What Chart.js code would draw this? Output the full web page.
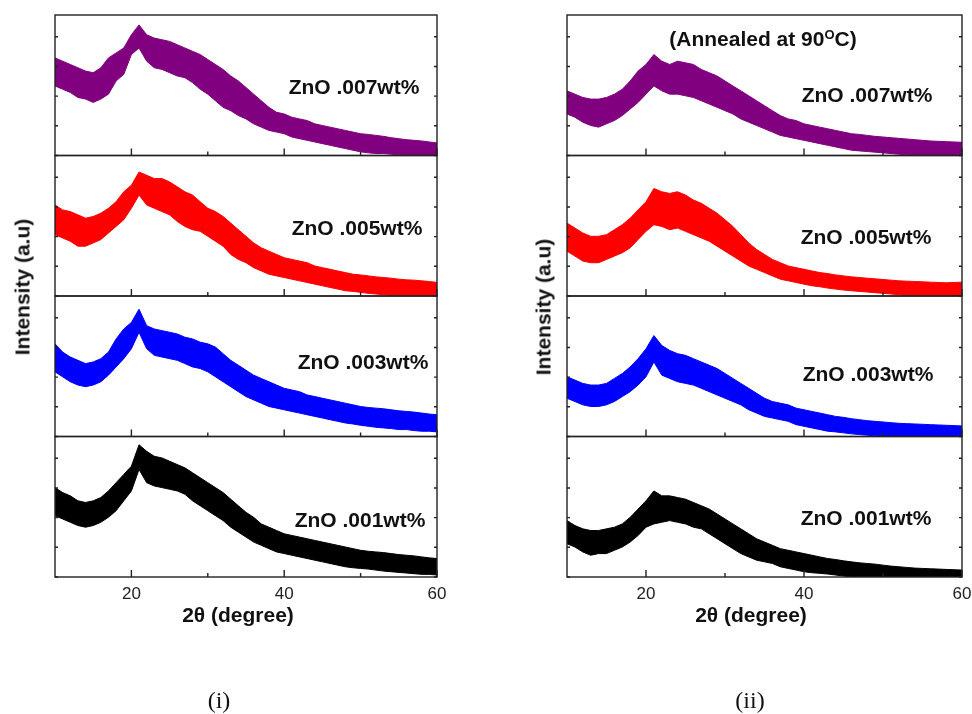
<!DOCTYPE html>
<html>
<head>
<meta charset="utf-8">
<script src="https://cdn.jsdelivr.net/npm/chart.js@4.4.1/dist/chart.umd.min.js"></script>
<style>
    body {
        margin: 0;
        background: #fff;
        width: 972px;
        height: 714px;
        position: relative;
        overflow: hidden;
        font-family: "Liberation Sans", Arial, sans-serif;
        color: #111;
    }
    .panel { position: absolute; top: 0; height: 714px; }
    .lbl {
        position: absolute;
        transform: translate(-50%, -50%);
        font-weight: bold;
        font-size: 21px;
        line-height: 1;
        white-space: nowrap;
    }
    .ytitle { transform: translate(-50%, -50%) rotate(-90deg); }
    .cap {
        font-family: "Liberation Serif", "Times New Roman", serif;
        font-weight: normal;
        font-size: 24px;
    }
    sup.deg { font-size: 13px; vertical-align: 7px; line-height: 0; }
</style>
</head>
<body>

<div class="panel" style="left:0; width:486px"><canvas id="chartDep" width="486" height="714"></canvas></div>
<div class="panel" style="left:486px; width:506px"><canvas id="chartAnn" width="506" height="714"></canvas></div>

<div class="lbl ytitle" style="left:22px; top:287px">Intensity (a.u)</div>
<div class="lbl ytitle" style="left:543px; top:307px">Intensity (a.u)</div>
<div class="lbl" style="left:238px; top:614px">2θ (degree)</div>
<div class="lbl" style="left:751px; top:614px">2θ (degree)</div>
<div class="lbl" style="left:763px; top:38px">(Annealed at 90<sup class="deg">O</sup>C)</div>
<div class="lbl cap" style="left:219px; top:700px">(i)</div>
<div class="lbl cap" style="left:750px; top:700px">(ii)</div>
<div id="labels"></div>

<script>
// 2theta positions, one per degree
const twoTheta = [
    10, 11, 12, 13, 14, 15, 16, 17, 18, 19,
    20, 21, 22, 23, 24, 25, 26, 27, 28, 29,
    30, 31, 32, 33, 34, 35, 36, 37, 38, 39,
    40, 41, 42, 43, 44, 45, 46, 47, 48, 49,
    50, 51, 52, 53, 54, 55, 56, 57, 58, 59, 60
];
const xTicks = [20, 40, 60];
const xMinorTicks = [30, 50];

const sampleNames = ["ZnO .007wt%", "ZnO .005wt%", "ZnO .003wt%", "ZnO .001wt%"];
const sampleColors = ["#800080", "#ff0000", "#0000ff", "#000000"];

// (i) as deposited - top and bottom edge of each noisy trace (a.u.)
const hi007 = [296, 286, 276, 266, 256, 251, 266, 296, 311, 326,
    366, 396, 366, 356, 351, 346, 336, 326, 316, 306,
    291, 276, 261, 241, 226, 206, 186, 166, 146, 131,
    126, 116, 111, 106, 96, 91, 86, 81, 76, 71,
    66, 64, 61, 58, 54, 51, 48, 46, 44, 41, 38];
const lo007 = [211, 201, 191, 176, 171, 161, 171, 186, 226, 246,
    306, 326, 286, 266, 261, 251, 241, 236, 221, 201,
    186, 166, 146, 136, 121, 111, 96, 86, 76, 71,
    66, 56, 51, 46, 41, 36, 31, 26, 21, 16,
    11, 8, 6, 6, 4, 2, 0, 0, 0, 0, 0];
const hi005 = [276, 261, 256, 246, 236, 241, 251, 266, 286, 316,
    336, 376, 366, 356, 356, 346, 331, 316, 306, 286,
    266, 256, 241, 221, 201, 181, 161, 146, 136, 126,
    116, 111, 106, 101, 91, 86, 81, 76, 71, 66,
    64, 61, 58, 56, 54, 51, 49, 48, 46, 44, 41];
const lo005 = [186, 176, 166, 151, 151, 161, 171, 191, 211, 231,
    266, 306, 276, 266, 256, 246, 226, 211, 201, 196,
    181, 166, 151, 126, 111, 101, 86, 76, 66, 61,
    56, 51, 46, 41, 36, 31, 26, 21, 16, 14,
    11, 8, 6, 4, 2, 0, 0, 0, 0, 0, 0];
const hi003 = [281, 256, 241, 231, 221, 226, 236, 256, 296, 326,
    346, 386, 336, 326, 321, 316, 311, 301, 296, 286,
    281, 271, 251, 231, 216, 201, 186, 176, 166, 156,
    146, 141, 136, 126, 121, 116, 111, 106, 101, 96,
    91, 88, 86, 84, 81, 78, 76, 74, 71, 68, 66];
const lo003 = [196, 181, 166, 156, 151, 156, 166, 186, 211, 236,
    266, 316, 266, 246, 241, 236, 231, 221, 211, 206,
    196, 181, 166, 151, 136, 121, 111, 101, 91, 86,
    81, 76, 71, 66, 61, 56, 51, 46, 41, 38,
    34, 31, 28, 26, 24, 21, 21, 18, 16, 16, 14];
const hi001 = [271, 256, 246, 231, 226, 231, 241, 261, 286, 311,
    336, 401, 381, 366, 361, 351, 341, 331, 316, 301,
    286, 271, 256, 236, 216, 196, 181, 161, 151, 141,
    131, 126, 121, 116, 111, 106, 101, 96, 91, 86,
    81, 78, 76, 74, 71, 68, 66, 64, 61, 58, 56];
const lo001 = [186, 176, 166, 156, 151, 156, 166, 181, 201, 231,
    261, 326, 286, 276, 271, 266, 261, 251, 231, 216,
    201, 186, 171, 151, 136, 121, 106, 96, 86, 76,
    71, 66, 61, 56, 51, 46, 41, 36, 31, 28,
    26, 24, 21, 18, 16, 14, 12, 10, 8, 8, 6];

// (ii) annealed at 90 C
const annHi007 = [196, 186, 176, 171, 171, 176, 186, 201, 226, 256,
    276, 306, 286, 276, 286, 281, 276, 261, 251, 241,
    226, 211, 196, 181, 166, 151, 136, 121, 111, 106,
    96, 91, 86, 81, 76, 71, 66, 64, 61, 58,
    56, 54, 52, 50, 48, 46, 44, 43, 42, 41, 40];
const annLo007 = [126, 116, 101, 91, 86, 96, 106, 121, 141, 161,
    186, 211, 196, 186, 186, 181, 176, 166, 156, 146,
    136, 126, 111, 101, 91, 81, 71, 61, 56, 51,
    46, 41, 36, 31, 26, 21, 16, 14, 12, 10,
    8, 6, 4, 2, 0, 0, 0, 0, 0, 0, 0];
const annHi005 = [221, 206, 191, 181, 181, 186, 201, 216, 236, 261,
    286, 326, 316, 311, 316, 306, 291, 281, 266, 251,
    231, 211, 186, 161, 141, 126, 111, 101, 91, 86,
    81, 76, 71, 68, 64, 61, 58, 56, 54, 52,
    50, 48, 46, 45, 44, 43, 42, 41, 40, 41, 42];
const annLo005 = [136, 121, 106, 101, 101, 111, 121, 131, 146, 171,
    196, 216, 211, 201, 206, 196, 186, 176, 166, 151,
    136, 121, 106, 91, 81, 71, 61, 51, 46, 41,
    36, 31, 28, 24, 21, 18, 16, 14, 12, 10,
    8, 6, 4, 2, 0, 0, 0, 0, 0, 0, 0];
const annHi003 = [181, 171, 161, 156, 156, 161, 176, 191, 211, 236,
    266, 306, 276, 261, 251, 246, 236, 226, 216, 206,
    191, 176, 161, 146, 131, 116, 106, 101, 96, 86,
    81, 76, 71, 66, 61, 58, 54, 51, 48, 46,
    44, 42, 40, 39, 38, 37, 36, 35, 34, 33, 32];
const annLo003 = [116, 106, 96, 91, 91, 96, 106, 121, 136, 156,
    181, 226, 186, 176, 166, 161, 156, 146, 136, 126,
    116, 106, 96, 81, 71, 61, 56, 51, 46, 36,
    31, 26, 21, 16, 14, 11, 8, 6, 4, 2,
    0, 0, 0, 0, 0, 0, 0, 0, 0, 0, 0];
const annHi001 = [171, 156, 146, 141, 141, 146, 151, 161, 181, 206,
    231, 261, 246, 246, 241, 236, 226, 216, 206, 191,
    176, 161, 146, 131, 116, 106, 96, 86, 81, 76,
    71, 66, 61, 56, 53, 49, 46, 43, 41, 39,
    36, 33, 31, 29, 27, 26, 25, 24, 23, 22, 21];
const annLo001 = [101, 91, 76, 66, 71, 71, 81, 91, 106, 126,
    151, 161, 166, 171, 166, 161, 151, 146, 131, 116,
    101, 86, 71, 61, 51, 46, 41, 31, 26, 21,
    16, 13, 11, 9, 6, 3, 0, 0, 0, 0,
    0, 0, 0, 0, 0, 0, 0, 0, 0, 0, 0];

// s1 = top trace (.007) ... s4 = bottom trace (.001)
const axisIds = ["s1", "s2", "s3", "s4"];

// boxes round each stacked trace + small inward ticks
const framePlugin = {
    id: "frames",
    afterDatasetsDraw(chart) {
        const { ctx, chartArea, scales } = chart;
        const x = scales.x;
        ctx.save();
        ctx.strokeStyle = "#222";
        ctx.lineWidth = 1.4;
        axisIds.forEach(id => {
            const s = scales[id];
            ctx.strokeRect(chartArea.left, s.top, chartArea.right - chartArea.left, s.bottom - s.top);
            ctx.beginPath();
            xTicks.forEach(v => {
                const px = x.getPixelForValue(v);
                ctx.moveTo(px, s.bottom);
                ctx.lineTo(px, s.bottom - 7);
            });
            xMinorTicks.forEach(v => {
                const px = x.getPixelForValue(v);
                ctx.moveTo(px, s.bottom);
                ctx.lineTo(px, s.bottom - 4);
            });
            s.ticks.forEach(t => {
                const py = s.getPixelForValue(t.value);
                ctx.moveTo(chartArea.left, py);
                ctx.lineTo(chartArea.left + 3, py);
                ctx.moveTo(chartArea.right, py);
                ctx.lineTo(chartArea.right - 3, py);
            });
            ctx.stroke();
        });
        ctx.restore();
    }
};

function pts(ys) {
    return ys.map((y, i) => ({ x: twoTheta[i], y: y }));
}

function makePanel(canvasId, his, los, pad) {

    const datasets = [];

    his.forEach((hi, k) => {
        datasets.push({
            label: sampleNames[k],
            data: pts(hi),
            yAxisID: axisIds[k],
            borderColor: sampleColors[k],
            backgroundColor: sampleColors[k],
            borderWidth: 1,
            pointRadius: 0,
            tension: 0,
            fill: "+1"
        });
        datasets.push({
            label: sampleNames[k] + " low",
            data: pts(los[k]),
            yAxisID: axisIds[k],
            borderColor: sampleColors[k],
            borderWidth: 1,
            pointRadius: 0,
            tension: 0,
            fill: false
        });
    });

    const scales = {
        x: {
            type: "linear",
            position: "bottom",
            min: 10,
            max: 60,
            afterBuildTicks: axis => {
                axis.ticks = xTicks.map(v => ({ value: v }));
            },
            afterFit: axis => {
                axis.height = 30;
            },
            grid: { display: false, drawTicks: false },
            border: { display: false },
            ticks: {
                color: "#222",
                padding: 7,
                maxRotation: 0,
                font: { family: "'Liberation Sans', Arial", size: 17 }
            }
        }
    };

    // stacked axes are laid out bottom-up, so add the lowest trace first
    [...axisIds].reverse().forEach(id => {
        scales[id] = {
            type: "linear",
            position: "left",
            stack: "traces",
            stackWeight: 1,
            min: 0,
            max: 426,
            display: false,
            ticks: { stepSize: 45 }
        };
    });

    new Chart(document.getElementById(canvasId), {
        type: "line",
        data: { datasets: datasets },
        options: {
            responsive: false,
            animation: false,
            devicePixelRatio: 1,
            layout: { padding: pad },
            plugins: {
                legend: { display: false },
                tooltip: { enabled: false }
            },
            scales: scales
        },
        plugins: [framePlugin]
    });
}

makePanel("chartDep",
    [hi007, hi005, hi003, hi001],
    [lo007, lo005, lo003, lo001],
    { left: 55, right: 49, top: 15, bottom: 107 });

makePanel("chartAnn",
    [annHi007, annHi005, annHi003, annHi001],
    [annLo007, annLo005, annLo003, annLo001],
    { left: 81, right: 30, top: 15, bottom: 107 });

// sample names beside each trace
const labelSpots = [
    [354, 86], [357, 227], [363, 361], [360, 519],
    [867, 94], [866, 236], [868, 373], [866, 517]
];
const holder = document.getElementById("labels");
labelSpots.forEach((p, i) => {
    const d = document.createElement("div");
    d.className = "lbl";
    d.style.left = p[0] + "px";
    d.style.top = p[1] + "px";
    d.textContent = sampleNames[i % 4];
    holder.appendChild(d);
});
</script>
</body>
</html>
